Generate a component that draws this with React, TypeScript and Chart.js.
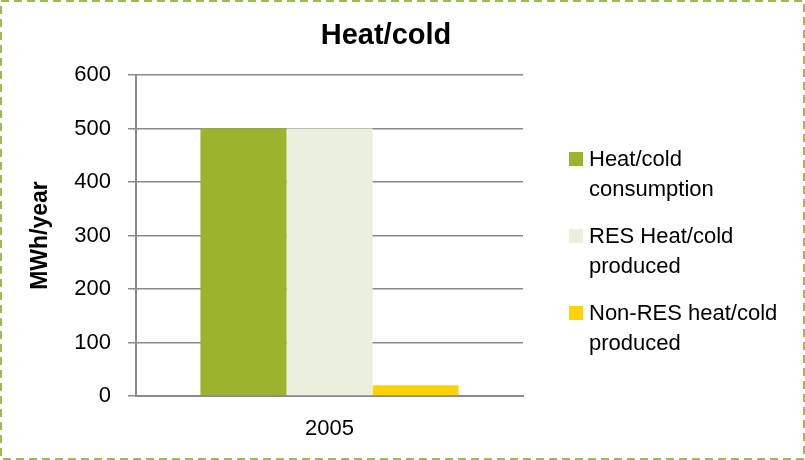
import React, { useEffect, useRef } from "react";
import { Chart, registerables } from "chart.js";

Chart.register(...registerables);

const categories = ["2005"];
const seriesNames = [
  ["Heat/cold", "consumption"],
  ["RES Heat/cold", "produced"],
  ["Non-RES heat/cold", "produced"],
];
const consumption = [500];
const resProduced = [500];
const nonResProduced = [20];
const seriesColors = ["#9BB32D", "#EBF0DE", "#FFD200"];
const yTicks = [0, 100, 200, 300, 400, 500, 600];
const chartTitle = "Heat/cold";
const yTitle = "MWh/year";

const FONT = "'Liberation Sans', Arial, sans-serif";

const decorPlugin = {
  id: "decor",
  beforeDraw(chart: any) {
    const ctx = chart.ctx;
    ctx.save();
    ctx.fillStyle = "#ffffff";
    ctx.fillRect(0, 0, chart.width, chart.height);
    ctx.restore();
  },
  afterDraw(chart: any) {
    const ctx = chart.ctx;
    ctx.save();
    // dashed outer border
    ctx.strokeStyle = "#9BBB59";
    ctx.lineWidth = 2;
    ctx.setLineDash([8, 5]);
    ctx.strokeRect(1, 1, chart.width - 2, chart.height - 2);
    ctx.setLineDash([]);
    // title
    ctx.fillStyle = "#000";
    ctx.font = `bold 29px ${FONT}`;
    ctx.textAlign = "center";
    ctx.textBaseline = "alphabetic";
    ctx.fillText(chartTitle, 386, 44);
    // legend
    const ds = chart.data.datasets;
    ctx.font = `22px ${FONT}`;
    ctx.textAlign = "left";
    for (let i = 0; i < ds.length; i++) {
      const base = 166 + 77 * i;
      ctx.fillStyle = ds[i].backgroundColor;
      ctx.fillRect(569, base - 14, 14, 14);
      ctx.fillStyle = "#000";
      const lines = ds[i].legendLines as string[];
      lines.forEach((ln, j) => ctx.fillText(ln, 589, base + 29.5 * j));
    }
    ctx.restore();
  },
};

export default function App() {
  const ref = useRef<HTMLCanvasElement>(null);
  useEffect(() => {
    document.body.style.margin = "0";
    const data = [consumption, resProduced, nonResProduced];
    const chart = new Chart(ref.current!, {
      type: "bar",
      data: {
        labels: categories,
        datasets: data.map((d, i) => ({
          label: seriesNames[i].join(" "),
          legendLines: seriesNames[i],
          data: d,
          backgroundColor: seriesColors[i],
          borderWidth: 0,
          categoryPercentage: 0.667,
          barPercentage: 1,
        })) as any,
      },
      options: {
        responsive: false,
        animation: false,
        devicePixelRatio: 1,
        layout: { padding: { top: 75, right: 282, bottom: 0, left: 0 } },
        plugins: {
          legend: { display: false },
          title: { display: false },
          tooltip: { enabled: false },
        },
        scales: {
          x: {
            grid: { display: false, drawTicks: false },
            border: { display: true, color: "#8a8a8a", width: 2 },
            ticks: { color: "#000", font: { family: FONT, size: 22 }, padding: 20 },
            afterFit(scale: any) {
              scale.height = 64;
            },
          },
          y: {
            min: 0,
            max: 600,
            afterBuildTicks(scale: any) {
              scale.ticks = yTicks.map((v) => ({ value: v }));
            },
            grid: { color: "#8a8a8a", lineWidth: 1.5, tickLength: 8, drawTicks: true },
            border: { display: true, color: "#8a8a8a", width: 2 },
            ticks: { color: "#000", font: { family: FONT, size: 22 }, padding: 17 },
            title: {
              display: true,
              text: yTitle,
              color: "#000",
              font: { family: FONT, size: 23, weight: "bold" },
              padding: { top: 27, bottom: 0 },
            },
            afterFit(scale: any) {
              scale.width = 136;
            },
          },
        },
      },
      plugins: [decorPlugin],
    });
    return () => chart.destroy();
  }, []);
  return (
    <div style={{ width: 805, height: 460 }}>
      <canvas ref={ref} width={805} height={460} style={{ display: "block" }} />
    </div>
  );
}
